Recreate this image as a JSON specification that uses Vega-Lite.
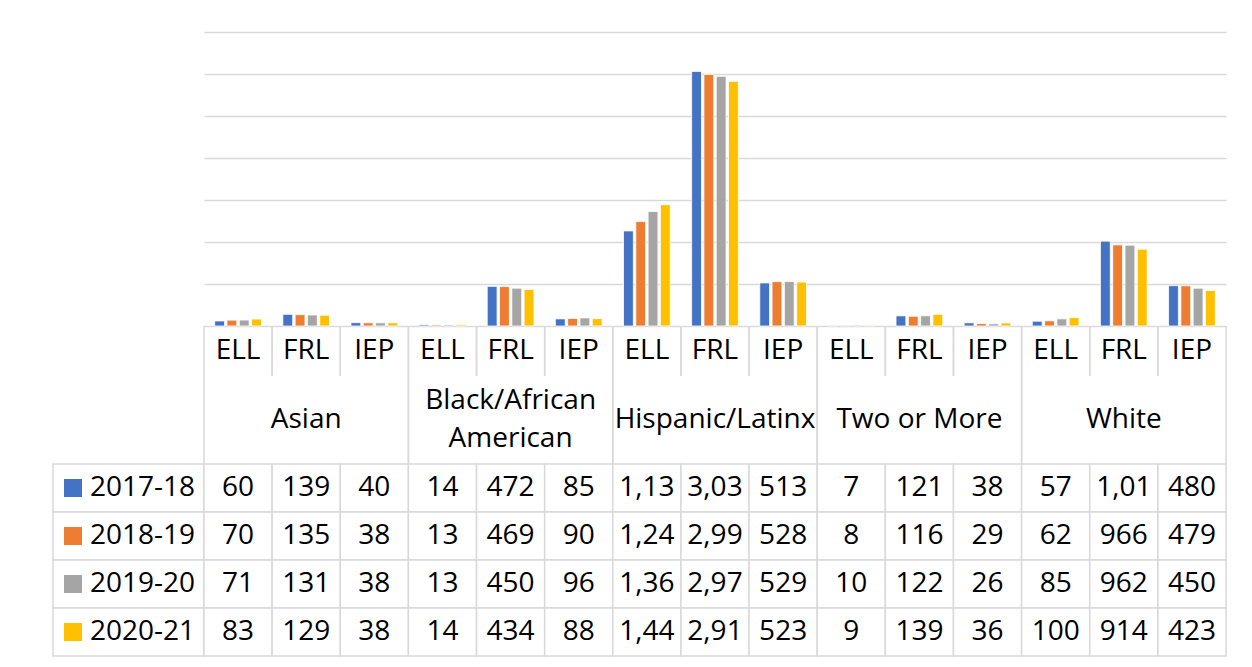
{
  "$schema": "https://vega.github.io/schema/vega-lite/v6.json",
  "padding": {"left": 52, "top": 32, "right": 0, "bottom": 0},
  "background": "white",
  "config": {
    "view": {"stroke": null},
    "font": "Open Sans",
    "text": {"fontSize": 28, "color": "#000000", "lineBreak": "\n", "lineHeight": 38}
  },
  "datasets": {
    "main": [
      {"group": "Asian", "sub": "ELL", "year": "2017-18", "value": 60},
      {"group": "Asian", "sub": "ELL", "year": "2018-19", "value": 70},
      {"group": "Asian", "sub": "ELL", "year": "2019-20", "value": 71},
      {"group": "Asian", "sub": "ELL", "year": "2020-21", "value": 83},
      {"group": "Asian", "sub": "FRL", "year": "2017-18", "value": 139},
      {"group": "Asian", "sub": "FRL", "year": "2018-19", "value": 135},
      {"group": "Asian", "sub": "FRL", "year": "2019-20", "value": 131},
      {"group": "Asian", "sub": "FRL", "year": "2020-21", "value": 129},
      {"group": "Asian", "sub": "IEP", "year": "2017-18", "value": 40},
      {"group": "Asian", "sub": "IEP", "year": "2018-19", "value": 38},
      {"group": "Asian", "sub": "IEP", "year": "2019-20", "value": 38},
      {"group": "Asian", "sub": "IEP", "year": "2020-21", "value": 38},
      {"group": "Black/African\nAmerican", "sub": "ELL", "year": "2017-18", "value": 14},
      {"group": "Black/African\nAmerican", "sub": "ELL", "year": "2018-19", "value": 13},
      {"group": "Black/African\nAmerican", "sub": "ELL", "year": "2019-20", "value": 13},
      {"group": "Black/African\nAmerican", "sub": "ELL", "year": "2020-21", "value": 14},
      {"group": "Black/African\nAmerican", "sub": "FRL", "year": "2017-18", "value": 472},
      {"group": "Black/African\nAmerican", "sub": "FRL", "year": "2018-19", "value": 469},
      {"group": "Black/African\nAmerican", "sub": "FRL", "year": "2019-20", "value": 450},
      {"group": "Black/African\nAmerican", "sub": "FRL", "year": "2020-21", "value": 434},
      {"group": "Black/African\nAmerican", "sub": "IEP", "year": "2017-18", "value": 85},
      {"group": "Black/African\nAmerican", "sub": "IEP", "year": "2018-19", "value": 90},
      {"group": "Black/African\nAmerican", "sub": "IEP", "year": "2019-20", "value": 96},
      {"group": "Black/African\nAmerican", "sub": "IEP", "year": "2020-21", "value": 88},
      {"group": "Hispanic/Latinx", "sub": "ELL", "year": "2017-18", "value": 1132},
      {"group": "Hispanic/Latinx", "sub": "ELL", "year": "2018-19", "value": 1243},
      {"group": "Hispanic/Latinx", "sub": "ELL", "year": "2019-20", "value": 1362},
      {"group": "Hispanic/Latinx", "sub": "ELL", "year": "2020-21", "value": 1444},
      {"group": "Hispanic/Latinx", "sub": "FRL", "year": "2017-18", "value": 3031},
      {"group": "Hispanic/Latinx", "sub": "FRL", "year": "2018-19", "value": 2995},
      {"group": "Hispanic/Latinx", "sub": "FRL", "year": "2019-20", "value": 2972},
      {"group": "Hispanic/Latinx", "sub": "FRL", "year": "2020-21", "value": 2912},
      {"group": "Hispanic/Latinx", "sub": "IEP", "year": "2017-18", "value": 513},
      {"group": "Hispanic/Latinx", "sub": "IEP", "year": "2018-19", "value": 528},
      {"group": "Hispanic/Latinx", "sub": "IEP", "year": "2019-20", "value": 529},
      {"group": "Hispanic/Latinx", "sub": "IEP", "year": "2020-21", "value": 523},
      {"group": "Two or More", "sub": "ELL", "year": "2017-18", "value": 7},
      {"group": "Two or More", "sub": "ELL", "year": "2018-19", "value": 8},
      {"group": "Two or More", "sub": "ELL", "year": "2019-20", "value": 10},
      {"group": "Two or More", "sub": "ELL", "year": "2020-21", "value": 9},
      {"group": "Two or More", "sub": "FRL", "year": "2017-18", "value": 121},
      {"group": "Two or More", "sub": "FRL", "year": "2018-19", "value": 116},
      {"group": "Two or More", "sub": "FRL", "year": "2019-20", "value": 122},
      {"group": "Two or More", "sub": "FRL", "year": "2020-21", "value": 139},
      {"group": "Two or More", "sub": "IEP", "year": "2017-18", "value": 38},
      {"group": "Two or More", "sub": "IEP", "year": "2018-19", "value": 29},
      {"group": "Two or More", "sub": "IEP", "year": "2019-20", "value": 26},
      {"group": "Two or More", "sub": "IEP", "year": "2020-21", "value": 36},
      {"group": "White", "sub": "ELL", "year": "2017-18", "value": 57},
      {"group": "White", "sub": "ELL", "year": "2018-19", "value": 62},
      {"group": "White", "sub": "ELL", "year": "2019-20", "value": 85},
      {"group": "White", "sub": "ELL", "year": "2020-21", "value": 100},
      {"group": "White", "sub": "FRL", "year": "2017-18", "value": 1010},
      {"group": "White", "sub": "FRL", "year": "2018-19", "value": 966},
      {"group": "White", "sub": "FRL", "year": "2019-20", "value": 962},
      {"group": "White", "sub": "FRL", "year": "2020-21", "value": 914},
      {"group": "White", "sub": "IEP", "year": "2017-18", "value": 480},
      {"group": "White", "sub": "IEP", "year": "2018-19", "value": 479},
      {"group": "White", "sub": "IEP", "year": "2019-20", "value": 450},
      {"group": "White", "sub": "IEP", "year": "2020-21", "value": 423}
    ]
  },
  "columns": 2,
  "spacing": 0,
  "bounds": "flush",
  "concat": [
    {
      "width": 151, "height": 294,
      "data": {"values": [{}]},
      "mark": {"type": "text", "text": ""},
      "encoding": {}
    },
    {
      "width": 1022, "height": 294,
      "data": {"name": "main"},
      "transform": [{"calculate": "datum.group + '|' + datum.sub", "as": "col"}],
      "mark": {"type": "bar", "stroke": "white", "strokeWidth": 0.8},
      "encoding": {
        "x": {"field": "col", "type": "nominal", "scale": {"paddingInner": 0, "paddingOuter": 0}, "axis": null},
        "xOffset": {"field": "year", "type": "nominal", "scale": {"paddingInner": 0.2, "paddingOuter": 0.87}},
        "y": {"field": "value", "type": "quantitative",
              "scale": {"domain": [0, 3500], "nice": false},
              "axis": {"title": null, "labels": false, "ticks": false, "domain": false,
                       "values": [0, 500, 1000, 1500, 2000, 2500, 3000, 3500],
                       "gridColor": "#d9d9d9", "gridWidth": 1.5}},
        "color": {"field": "year", "type": "nominal",
                  "scale": {"domain": ["2017-18", "2018-19", "2019-20", "2020-21"], "range": ["#4472C4", "#ED7D31", "#A5A5A5", "#FFC000"]},
                  "legend": null}
      }
    },
    {
      "width": 151, "height": 50,
      "data": {"values": [{}]},
      "mark": {"type": "text", "text": ""},
      "encoding": {}
    },
    {
      "width": 1022, "height": 50,
      "data": {"name": "main"},
      "transform": [
        {"calculate": "datum.group + '|' + datum.sub", "as": "col"},
        {"filter": "datum.year == '2017-18'"}
      ],
      "layer": [
        {"mark": {"type": "rule", "color": "#d9d9d9", "strokeWidth": 1.5},
         "encoding": {"x": {"field": "col", "type": "nominal", "bandPosition": 0, "scale": {"paddingInner": 0, "paddingOuter": 0}, "axis": null}}},
        {"mark": {"type": "rule", "color": "#d9d9d9", "strokeWidth": 1.5},
         "encoding": {"x": {"field": "col", "type": "nominal", "bandPosition": 1, "scale": {"paddingInner": 0, "paddingOuter": 0}, "axis": null}}},
        {"mark": {"type": "text", "baseline": "middle"},
         "encoding": {"x": {"field": "col", "type": "nominal", "scale": {"paddingInner": 0, "paddingOuter": 0}, "axis": null},
                      "text": {"field": "sub"}}}
      ]
    },
    {
      "width": 151, "height": 88,
      "data": {"values": [{}]},
      "mark": {"type": "text", "text": ""},
      "encoding": {}
    },
    {
      "width": 1022, "height": 88,
      "data": {"name": "main"},
      "transform": [{"filter": "datum.year == '2017-18' && datum.sub == 'ELL'"}],
      "encoding": {
        "x": {"field": "group", "type": "nominal", "scale": {"paddingInner": 0, "paddingOuter": 0}, "axis": null}
      },
      "layer": [
        {"mark": {"type": "rule", "color": "#d9d9d9", "strokeWidth": 1.5},
         "encoding": {"x": {"field": "group", "type": "nominal", "bandPosition": 0, "scale": {"paddingInner": 0, "paddingOuter": 0}, "axis": null}}},
        {"mark": {"type": "rule", "color": "#d9d9d9", "strokeWidth": 1.5},
         "encoding": {"x": {"field": "group", "type": "nominal", "bandPosition": 1, "scale": {"paddingInner": 0, "paddingOuter": 0}, "axis": null}}},
        {"transform": [{"filter": "indexof(datum.group, 'Black') < 0"}],
         "mark": {"type": "text", "baseline": "middle"},
         "encoding": {"text": {"field": "group"}}},
        {"transform": [{"filter": "indexof(datum.group, 'Black') >= 0"}],
         "mark": {"type": "text", "baseline": "middle", "dy": -19},
         "encoding": {"text": {"field": "group"}}}
      ]
    },
    {
      "width": 151, "height": 192,
      "data": {"name": "main"},
      "transform": [{"filter": "datum.group == 'Asian' && datum.sub == 'ELL'"}],
      "encoding": {
        "y": {"field": "year", "type": "nominal", "scale": {"paddingInner": 0, "paddingOuter": 0}, "axis": null}
      },
      "layer": [
        {"mark": {"type": "rect", "fill": "white", "stroke": "#d9d9d9", "strokeWidth": 1.5}},
        {"mark": {"type": "point", "shape": "square", "filled": true, "size": 324, "opacity": 1, "strokeWidth": 0},
         "encoding": {"x": {"value": 20},
                      "color": {"field": "year", "type": "nominal",
                                "scale": {"domain": ["2017-18", "2018-19", "2019-20", "2020-21"], "range": ["#4472C4", "#ED7D31", "#A5A5A5", "#FFC000"]},
                                "legend": null}}},
        {"mark": {"type": "text", "align": "left", "baseline": "middle"},
         "encoding": {"x": {"value": 37}, "text": {"field": "year"}}}
      ]
    },
    {
      "width": 1022, "height": 192,
      "data": {"name": "main"},
      "transform": [
        {"calculate": "datum.group + '|' + datum.sub", "as": "col"},
        {"calculate": "substring(format(datum.value, ','), 0, 4)", "as": "shown"}
      ],
      "encoding": {
        "x": {"field": "col", "type": "nominal", "scale": {"paddingInner": 0, "paddingOuter": 0}, "axis": null},
        "y": {"field": "year", "type": "nominal", "scale": {"paddingInner": 0, "paddingOuter": 0}, "axis": null}
      },
      "layer": [
        {"mark": {"type": "rect", "fill": "white", "stroke": "#d9d9d9", "strokeWidth": 1.5}},
        {"mark": {"type": "text", "baseline": "middle"}, "encoding": {"text": {"field": "shown"}}}
      ]
    }
  ]
}
